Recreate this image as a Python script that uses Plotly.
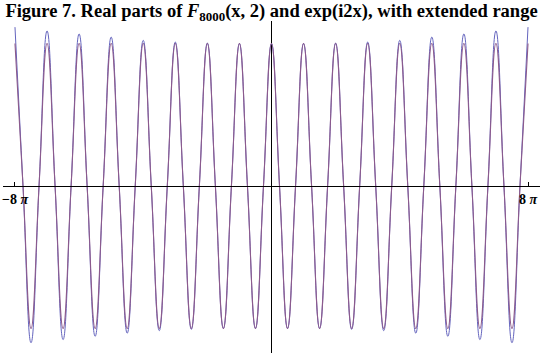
import plotly.graph_objects as go

# x positions in units of pi (extrema and zero crossings, quarter-pi steps)
x_pi = [k / 4 for k in range(-32, 33)]

# Re exp(i2x): values read at extrema / zero crossings
exp_re = [
    1, 0, -1, 0, 1, 0, -1, 0, 1, 0, -1, 0, 1, 0, -1, 0,
    1, 0, -1, 0, 1, 0, -1, 0, 1, 0, -1, 0, 1, 0, -1, 0,
    1,
    0, -1, 0, 1, 0, -1, 0, 1, 0, -1, 0, 1, 0, -1, 0, 1,
    0, -1, 0, 1, 0, -1, 0, 1, 0, -1, 0, 1, 0, -1, 0, 1,
]

# Re F_8000(x, 2): values read at extrema / zero crossings
f_re = [
    1.115, 0, -1.100, 0, 1.088, 0, -1.078, 0, 1.067, 0, -1.055, 0, 1.045, 0, -1.033, 0,
    1.022, 0, -1.015, 0, 1.010, 0, -1.006, 0, 1.003, 0, -1.000, 0, 1.000, 0, -1.000, 0,
    1.000,
    0, -1.000, 0, 1.000, 0, -1.000, 0, 1.003, 0, -1.006, 0, 1.010, 0, -1.015, 0, 1.022,
    0, -1.033, 0, 1.045, 0, -1.055, 0, 1.067, 0, -1.078, 0, 1.088, 0, -1.100, 0, 1.115,
]

tick_vals = [-8, 8]
tick_text = ["<b>\u22128 <i>\u03c0</i></b>", "<b>8 <i>\u03c0</i></b>"]

title_text = ("<b>Figure 7. Real parts of <i>F</i><sub>8000</sub>(x, 2) and exp(i2x), "
              "with extended range</b>")

y_lo, y_hi = -1.172, 1.158

fig = go.Figure()
fig.add_trace(go.Scatter(
    x=x_pi, y=f_re, mode="lines",
    line=dict(color="rgb(100,100,190)", width=1, shape="spline", smoothing=1.3),
    hoverinfo="skip", showlegend=False,
))
fig.add_trace(go.Scatter(
    x=x_pi, y=exp_re, mode="lines",
    line=dict(color="rgb(140,90,140)", width=1.1, shape="spline", smoothing=1.3),
    hoverinfo="skip", showlegend=False,
))

fig.update_layout(
    width=540, height=353,
    margin=dict(l=3, r=0, t=21, b=0, pad=0),
    paper_bgcolor="white", plot_bgcolor="white",
    title=dict(
        text=title_text, x=0.5, xref="paper", xanchor="center",
        y=1 - 10.5 / 353, yref="container", yanchor="middle",
        font=dict(family="Liberation Serif", size=18.5, color="black"),
    ),
    xaxis=dict(
        range=[-8.374, 8.374], anchor="free",
        position=(0 - y_lo) / (y_hi - y_lo),
        showline=True, linecolor="black", linewidth=1,
        ticks="inside", ticklen=4, tickcolor="black", tickwidth=1,
        tickvals=tick_vals, ticktext=tick_text,
        tickfont=dict(family="Liberation Serif", size=14, color="black"),
        showgrid=False,
        zeroline=True, zerolinecolor="black", zerolinewidth=1,
        layer="above traces",
    ),
    yaxis=dict(
        range=[y_lo, y_hi], visible=False, showgrid=False, zeroline=False,
    ),
)

fig.write_html("out.html")
